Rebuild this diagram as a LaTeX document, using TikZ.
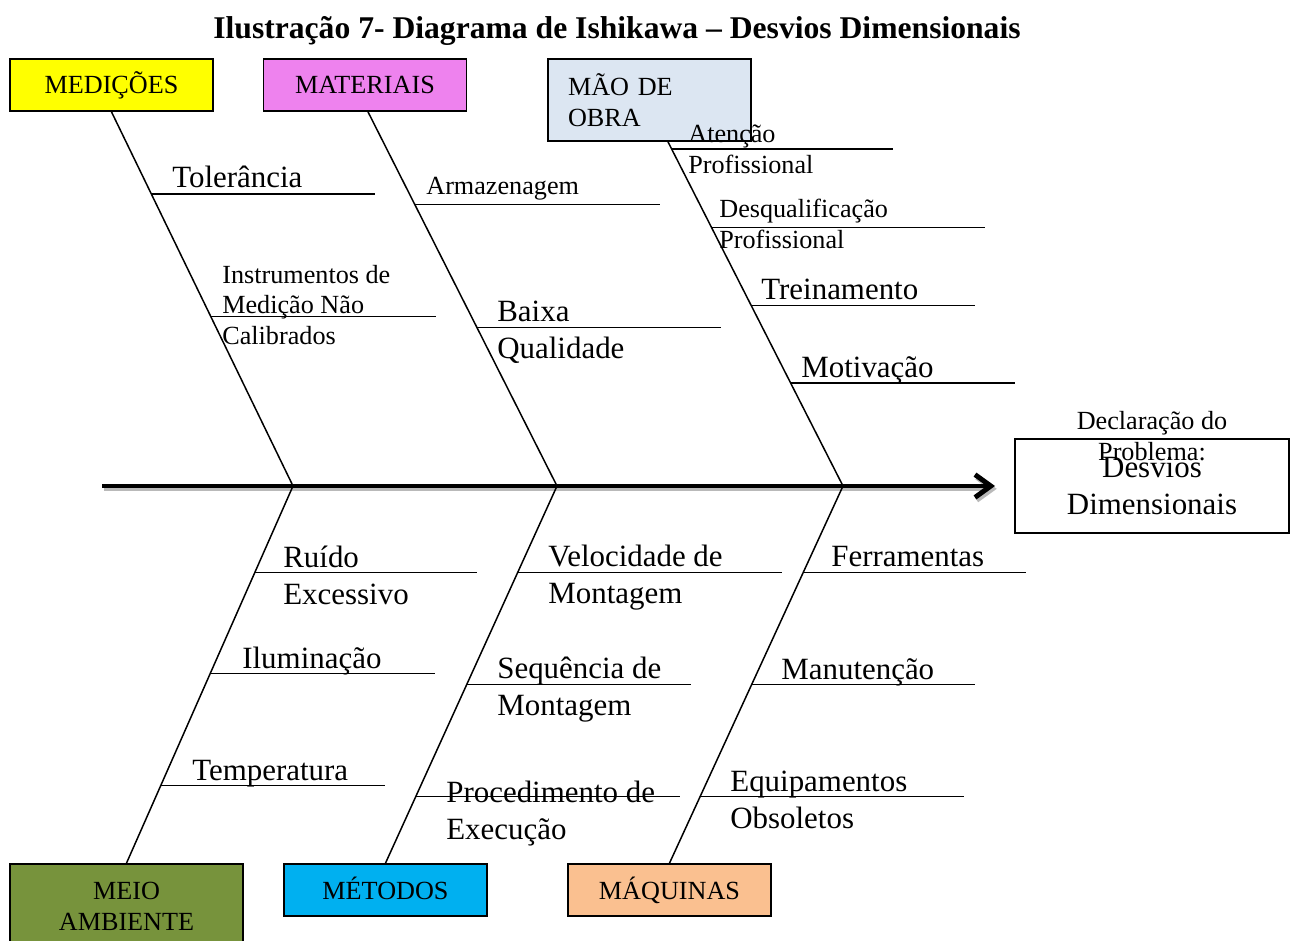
\documentclass[tikz,border=0pt]{standalone}
\usepackage{fontspec}
\setmainfont{Liberation Serif}
\usepackage{tikz}
\usetikzlibrary{arrows.meta, calc}
\tikzset{>=stealth}
\definecolor{amarelo}{HTML}{FFFF00}
\definecolor{lilas}{HTML}{EE82EE}
\definecolor{azulclaro}{HTML}{DCE6F2}
\definecolor{verdeoliva}{HTML}{77933C}
\definecolor{ciano}{HTML}{00B0F0}
\definecolor{pessego}{HTML}{FAC090}
\newcommand{\grande}{\fontsize{17.6}{21}\selectfont}
\newcommand{\pequeno}{\fontsize{14.9}{17.6}\selectfont}
\newcommand{\titulo}{\fontsize{18}{21}\selectfont\bfseries}
\tikzset{
  caixa/.style={draw, line width=1pt, minimum width=4.06cm, minimum height=1.04cm, inner sep=0pt, font=\pequeno},
  espinha/.style={line width=0.85pt},
  ramo/.style={line width=0.85pt},
  txtg/.style={font=\grande, inner sep=0pt, anchor=west, align=left},
  txtp/.style={font=\pequeno, inner sep=0pt, anchor=west, align=left}
}

\begin{document}
\begin{tikzpicture}[x=0.02cm, y=-0.02cm]
  \useasboundingbox (0,0) rectangle (1295,940);
  % titulo
  \node[font=\titulo] (titulo) at (617,31) {Ilustração 7- Diagrama de Ishikawa – Desvios Dimensionais};
  % categorias
  \node[caixa, fill=amarelo] (med) at (111.5,85) {MEDIÇÕES};
  \node[caixa, fill=lilas] (mat) at (365,85) {MATERIAIS};
  \node[caixa, fill=azulclaro, minimum height=1.64cm, inner xsep=0.4cm, text width=3.26cm, align=left] (mao) at (649.5,100) {MÃO DE\\OBRA};
  \node[caixa, fill=verdeoliva, minimum width=4.66cm, minimum height=1.68cm, align=center] (meio) at (126.5,906) {MEIO\\AMBIENTE};
  \node[caixa, fill=ciano] (met) at (385.5,890) {\raisebox{2pt}{MÉTODOS}};
  \node[caixa, fill=pessego] (maq) at (669.5,890) {MÁQUINAS};
  % problema
  \node[draw, line width=0.8pt, minimum width=5.48cm, minimum height=1.88cm, inner sep=0pt, align=center, font=\grande] (prob) at (1152,486) {Desvios\\Dimensionais};
  \node[font=\pequeno, inner sep=0pt, align=center] (decl) at (1152,436) {Declaração do\\Problema:};
  % espinha principal
  \coordinate (cauda) at (102,486);
  \coordinate (cabeca) at (995,486);
  \coordinate (jMed) at (293,486);
  \coordinate (jMat) at (557,486);
  \coordinate (jMao) at (843,486);
  \draw[line width=2.8pt, gray!55, -{Straight Barb[length=9pt, width=13pt]}, transform canvas={xshift=1pt, yshift=-1.6pt}] (cauda) -- (cabeca);
  \draw[line width=2.8pt, -{Straight Barb[length=9pt, width=13pt]}] (cauda) -- (cabeca);
  % espinhas de cima
  \draw[espinha] (med.south) -- (jMed) coordinate[pos=.219] (tol) coordinate[pos=.547] (ins);
  \draw[espinha] ([xshift=0.06cm]mat.south) -- (jMat) coordinate[pos=.248] (arm) coordinate[pos=.576] (bai);
  \draw[espinha] ([xshift=0.37cm]mao.south) -- (jMao) coordinate[pos=.02] (ate) coordinate[pos=.249] (des) coordinate[pos=.475] (tre) coordinate[pos=.701] (mot);
  % espinhas de baixo
  \draw[espinha] (jMed) -- (meio.north) coordinate[pos=.23] (rui) coordinate[pos=.497] (ilu) coordinate[pos=.794] (tem);
  \draw[espinha] (jMat) -- (met.north) coordinate[pos=.23] (vel) coordinate[pos=.526] (seq) coordinate[pos=.823] (pro);
  \draw[espinha] (jMao) -- (maq.north) coordinate[pos=.23] (fer) coordinate[pos=.526] (man) coordinate[pos=.823] (equ);
  % ramos
  \draw[ramo] (tol) -- ++(224,0) coordinate (tolF);
  \draw[ramo] (ins) -- ++(225,0) coordinate (insF);
  \draw[ramo] (arm) -- ++(245,0) coordinate (armF);
  \draw[ramo] (bai) -- ++(244,0) coordinate (baiF);
  \draw[ramo] (ate) -- ++(221,0) coordinate (ateF);
  \draw[ramo] (des) -- ++(273,0) coordinate (desF);
  \draw[ramo] (tre) -- ++(224,0) coordinate (treF);
  \draw[ramo] (mot) -- ++(224,0) coordinate (motF);
  \draw[ramo] (rui) -- ++(222,0) coordinate (ruiF);
  \draw[ramo] (ilu) -- ++(225,0) coordinate (iluF);
  \draw[ramo] (tem) -- ++(224,0) coordinate (temF);
  \draw[ramo] (vel) -- ++(264,0) coordinate (velF);
  \draw[ramo] (seq) -- ++(224,0) coordinate (seqF);
  \draw[ramo] (pro) -- ++(264,0) coordinate (proF);
  \draw[ramo] (fer) -- ++(223,0) coordinate (ferF);
  \draw[ramo] (man) -- ++(223,0) coordinate (manF);
  \draw[ramo] (equ) -- ++(264,0) coordinate (equF);
  % textos
  \node[txtg] (tTol) at (172,177) {Tolerância};
  \node[txtp] (tIns) at (222,305) {Instrumentos de\\Medição Não\\Calibrados};
  \node[txtp] (tArm) at (426,189) {Armazenagem};
  \node[txtg] (tBai) at (497,332) {Baixa\\Qualidade};
  \node[txtp] (tAte) at (688,149) {Atenção\\Profissional};
  \node[txtp] (tDes) at (719,224) {Desqualificação\\Profissional};
  \node[txtg] (tTre) at (761,289) {Treinamento};
  \node[txtg] (tMot) at (801,370) {Motivação};
  \node[txtg] (tRui) at (283,575) {Ruído\\Excessivo};
  \node[txtg] (tIlu) at (242,661) {Iluminação};
  \node[txtg] (tTem) at (192,774) {Temperatura};
  \node[txtg] (tVel) at (548,578) {Velocidade de\\Montagem};
  \node[txtg] (tSeq) at (497,690) {Sequência de\\Montagem};
  \node[txtg] (tPro) at (446,814) {Procedimento de\\Execução};
  \node[txtg] (tFer) at (831,557) {Ferramentas};
  \node[txtg] (tMan) at (781,672) {Manutenção};
  \node[txtg] (tEqu) at (730,800) {Equipamentos\\Obsoletos};
\end{tikzpicture}
\end{document}
